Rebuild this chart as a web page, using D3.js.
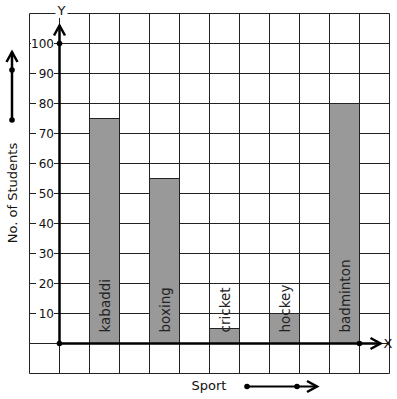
<!DOCTYPE html>
<html>
<head>
<meta charset="utf-8">
<script src="https://cdn.jsdelivr.net/npm/d3@7"></script>
<style>
  body { margin: 0; background: #fff; }
  svg { font-family: "DejaVu Sans", sans-serif; }
</style>
</head>
<body>
<div id="chart"></div>
<script>
// data
const sports = ["kabaddi", "boxing", "cricket", "hockey", "badminton"];
const students = [75, 55, 5, 10, 80];
const yTicks = [10, 20, 30, 40, 50, 60, 70, 80, 90, 100];

const width = 397, height = 399;

const svg = d3.select("#chart").append("svg")
    .attr("width", width)
    .attr("height", height);

// grid units: one column/row = 30px, y axis sits at column 0, x axis at row 0
const x = d3.scaleLinear().domain([-1, 11]).range([29.5, 389.5]);
const y = d3.scaleLinear().domain([-10, 110]).range([373.5, 13.5]);

// grid
const grid = svg.append("g").attr("stroke", "#222").attr("stroke-width", 1);
grid.selectAll(".vline")
    .data(d3.range(-1, 12))
    .enter().append("line")
    .attr("x1", d => x(d)).attr("x2", d => x(d))
    .attr("y1", y(110)).attr("y2", y(-10));
grid.selectAll(".hline")
    .data(d3.range(-10, 111, 10))
    .enter().append("line")
    .attr("x1", x(-1)).attr("x2", x(11))
    .attr("y1", d => y(d)).attr("y2", d => y(d));

// bars, each occupying one grid column (1, 3, 5, ...)
const bars = svg.append("g");
bars.selectAll("rect")
    .data(sports)
    .enter().append("rect")
    .attr("x", (d, i) => x(1 + i * 2))
    .attr("width", x(1) - x(0))
    .attr("y", (d, i) => y(students[i]))
    .attr("height", (d, i) => y(0) - y(students[i]))
    .attr("fill", "#999")
    .attr("stroke", "#222")
    .attr("stroke-width", 1);

bars.selectAll("text")
    .data(sports)
    .enter().append("text")
    .attr("transform", (d, i) => "translate(" + (x(1.5 + i * 2) + 5.5) + "," + (y(0) - 11) + ") rotate(-90)")
    .attr("font-size", 13.5)
    .attr("fill", "#222")
    .text(d => d);

// y tick labels with white backing that hides the grid line
const ticks = svg.append("g");
ticks.selectAll("rect")
    .data(yTicks)
    .enter().append("rect")
    .attr("x", d => d >= 100 ? 31 : 36)
    .attr("y", d => y(d) - 7)
    .attr("width", d => d >= 100 ? 23 : 18)
    .attr("height", 14)
    .attr("fill", "#fff");
ticks.selectAll("text")
    .data(yTicks)
    .enter().append("text")
    .attr("x", 54)
    .attr("y", d => y(d))
    .attr("dy", "0.36em")
    .attr("text-anchor", "end")
    .attr("font-size", 12)
    .attr("fill", "#111")
    .text(d => d);

// axes
const axes = svg.append("g").attr("stroke", "#000").attr("stroke-width", 2.5).attr("fill", "none");
axes.append("line")
    .attr("x1", x(0)).attr("x2", x(0))
    .attr("y1", y(0)).attr("y2", y(106));
axes.append("path")
    .attr("d", "M" + (x(0) - 5.5) + "," + (y(106) + 10) + "L" + x(0) + "," + y(106) + "L" + (x(0) + 5.5) + "," + (y(106) + 10));
axes.append("line")
    .attr("x1", x(0)).attr("x2", x(10.7))
    .attr("y1", y(0)).attr("y2", y(0));
axes.append("path")
    .attr("d", "M" + (x(10.7) - 10) + "," + (y(0) - 5.5) + "L" + x(10.7) + "," + y(0) + "L" + (x(10.7) - 10) + "," + (y(0) + 5.5));

// axis dots
svg.selectAll(".dot")
    .data([[0, 0], [0, 100], [10, 0]])
    .enter().append("circle")
    .attr("cx", d => x(d[0]))
    .attr("cy", d => y(d[1]))
    .attr("r", 2.8)
    .attr("fill", "#000");

// axis letters
svg.append("rect").attr("x", x(0) - 4).attr("y", 4).attr("width", 12).attr("height", 14).attr("fill", "#fff");
svg.append("text").attr("x", x(0) + 2).attr("y", 15).attr("text-anchor", "middle")
    .attr("font-size", 13).attr("fill", "#111").text("Y");
svg.append("text").attr("x", 388).attr("y", y(0)).attr("dy", "0.36em").attr("text-anchor", "middle")
    .attr("font-size", 13).attr("fill", "#111").text("X");

// axis titles
svg.append("text")
    .attr("transform", "translate(17,193) rotate(-90)")
    .attr("text-anchor", "middle")
    .attr("font-size", 13)
    .attr("fill", "#111")
    .text("No. of Students");
svg.append("text")
    .attr("x", 209).attr("y", 390)
    .attr("text-anchor", "middle")
    .attr("font-size", 13)
    .attr("fill", "#111")
    .text("Sport");

// direction arrows beside the titles
const legend = svg.append("g").attr("stroke", "#000").attr("stroke-width", 2.5).attr("fill", "none");
legend.append("line").attr("x1", 12).attr("x2", 12).attr("y1", 120).attr("y2", 52);
legend.append("path").attr("d", "M6.5,62L12,52L17.5,62");
legend.append("line").attr("x1", 247).attr("x2", 317).attr("y1", 386.5).attr("y2", 386.5).attr("stroke-width", 2);
legend.append("path").attr("d", "M307,381L317,386.5L307,392");
svg.selectAll(".ldot")
    .data([[12, 70], [12, 120], [247, 386.5], [297, 386.5]])
    .enter().append("circle")
    .attr("cx", d => d[0]).attr("cy", d => d[1])
    .attr("r", 2.8).attr("fill", "#000");
</script>
</body>
</html>
